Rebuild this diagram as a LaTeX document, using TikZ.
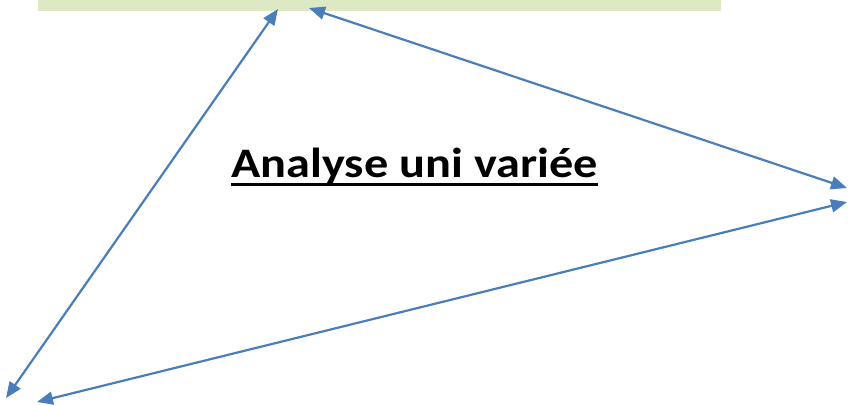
\documentclass[tikz,border=0pt]{standalone}
\usepackage{fontspec}
\setmainfont{Carlito}
\usetikzlibrary{arrows.meta,positioning,calc}
\definecolor{bandgreen}{RGB}{221,232,196}
\definecolor{linkblue}{RGB}{74,126,187}
\tikzset{
  band/.style={fill=bandgreen, draw=none, inner sep=0pt},
  link/.style={{Triangle[length=16pt,width=13pt]}-{Triangle[length=16pt,width=13pt]},
    line width=2.2pt, draw=linkblue},
  title/.style={font=\bfseries\fontsize{42}{46}\selectfont, inner sep=0pt}
}

\begin{document}
\begin{tikzpicture}[x=1pt, y=-1pt]
  \useasboundingbox (0,0) rectangle (848,404);
  % green band at the top
  \node[band, minimum width=683pt, minimum height=11pt, anchor=north west] (band) at (38,0) {};

  % arrow end points
  \coordinate (topL) at (278,9);
  \coordinate (topR) at (309,8);
  \coordinate (rightA) at (847,188);
  \coordinate (rightB) at (847,202);
  \coordinate (botL) at (6,398);
  \coordinate (botR) at (37,402);

  \node[title, anchor=base] (name) at (414.5,177) {\scalebox{1.15}[1]{Analyse uni variée}};
  \draw[line width=3pt] ($(name.base west)+(0,7)$) -- ($(name.base east)+(0,7)$);

  \draw[link] (topL) -- (botL);
  \draw[link] (topR) -- (rightA);
  \draw[link] (rightB) -- (botR);
\end{tikzpicture}
\end{document}
